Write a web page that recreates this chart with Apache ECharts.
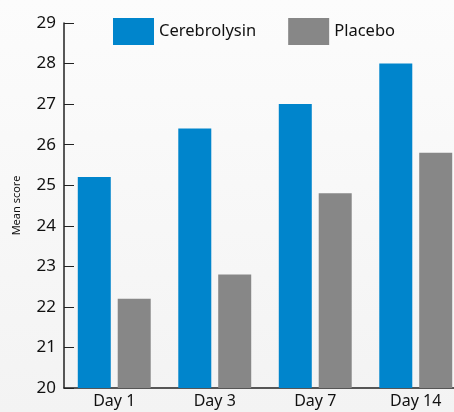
<!DOCTYPE html>
<html>
<head>
<meta charset="utf-8">
<script src="https://cdn.jsdelivr.net/npm/echarts@6/dist/echarts.min.js"></script>
<style>
  html, body { margin: 0; padding: 0; }
  #main { width: 454px; height: 412px; }
</style>
</head>
<body>
<div id="main"></div>
<script>
var days = ['Day 1', 'Day 3', 'Day 7', 'Day 14'];
var cerebrolysin = [25.2, 26.4, 27.0, 28.0];
var placebo = [22.2, 22.8, 24.8, 25.8];

var myChart = echarts.init(document.getElementById('main'));
var font = 'Noto Sans';

var option = {
    backgroundColor: {
        type: 'linear', x: 0, y: 0, x2: 0, y2: 1,
        colorStops: [{ offset: 0, color: '#fcfcfc' }, { offset: 1, color: '#f3f3f3' }]
    },
    animation: false,
    legend: {
        left: 108,
        top: 13,
        itemWidth: 41,
        itemHeight: 27,
        itemGap: 32,
        icon: 'rect',
        textStyle: { fontFamily: font, fontSize: 16.5, color: '#111' },
        data: ['Cerebrolysin', 'Placebo']
    },
    grid: { left: 64, top: 23, width: 402, height: 365, outerBoundsMode: 'none', containLabel: false },
    xAxis: {
        type: 'category',
        data: days,
        axisLine: { lineStyle: { color: '#222', width: 1.5 } },
        axisTick: { inside: true, length: 8, lineStyle: { color: '#222' } },
        axisLabel: { fontFamily: font, fontSize: 16, color: '#111', margin: 5 }
    },
    yAxis: {
        type: 'value',
        min: 20,
        max: 29,
        interval: 1,
        name: 'Mean score',
        nameLocation: 'middle',
        nameGap: 42,
        nameTextStyle: { fontFamily: font, fontSize: 11, color: '#111' },
        splitLine: { show: false },
        axisLine: { show: true, lineStyle: { color: '#222', width: 1.5 } },
        axisTick: { show: true, inside: true, length: 10, lineStyle: { color: '#222' } },
        axisLabel: { fontFamily: font, fontSize: 17, color: '#111', margin: 8 }
    },
    series: [{
        name: 'Cerebrolysin',
        type: 'bar',
        data: cerebrolysin,
        barWidth: 33,
        barGap: '21%',
        itemStyle: { color: '#0085cc' }
    }, {
        name: 'Placebo',
        type: 'bar',
        data: placebo,
        barWidth: 33,
        itemStyle: { color: '#878787' }
    }]
};
myChart.setOption(option);
</script>
</body>
</html>
